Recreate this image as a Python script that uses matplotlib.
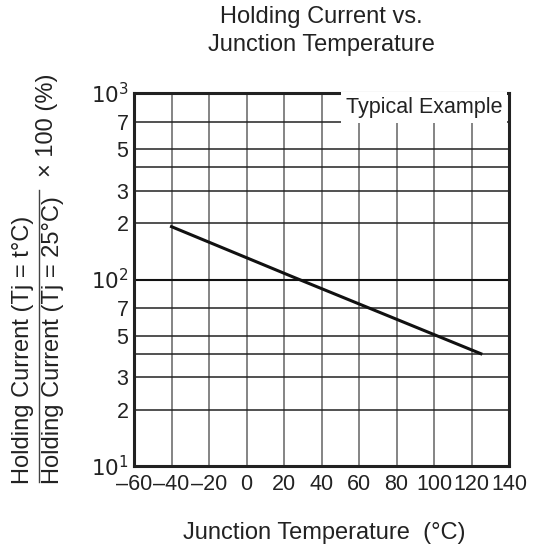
import matplotlib
matplotlib.use("Agg")
import matplotlib.pyplot as plt
from matplotlib.ticker import FixedLocator

plt.rcParams['font.family'] = ['Liberation Sans', 'DejaVu Sans']

# Data
temp = [-40, 25, 125]
ratio = [192, 103, 40]

x_ticks = [-60, -40, -20, 0, 20, 40, 60, 80, 100, 120, 140]
x_labels = ['\u201360', '\u201340', '\u201320', '0', '20', '40', '60', '80', '100', '120', '140']
y_major = [10, 100, 1000]
y_major_labels = ['$10^1$', '$10^2$', '$10^3$']
y_minor = [20, 30, 40, 50, 70, 200, 300, 400, 500, 700]
y_minor_labels = ['2', '3', '', '5', '7', '2', '3', '', '5', '7']

fig = plt.figure(figsize=(5.39, 5.53), dpi=100)
ax = fig.add_axes([134 / 539, 1 - 466 / 553, 375 / 539, 373 / 553])

ax.set_yscale('log')
ax.set_xlim(-60, 140)
ax.set_ylim(10, 1000)

# Grid
for xv in x_ticks[1:-1]:
    ax.axvline(xv, color='#707070', lw=1.2, zorder=1)
for yv in y_minor:
    ax.axhline(yv, color='#222222', lw=1.1, zorder=1)
ax.axhline(100, color='#111111', lw=1.5, zorder=1)

ax.plot(temp, ratio, color='#111111', lw=2.2, zorder=3)

ax.set_xticks(x_ticks)
ax.set_xticklabels(x_labels, fontsize=15.5)
ax.yaxis.set_major_locator(FixedLocator(y_major))
ax.set_yticklabels(y_major_labels, fontsize=15.5)
ax.yaxis.set_minor_locator(FixedLocator(y_minor))
ax.set_yticklabels(y_minor_labels, minor=True, fontsize=15.5)
ax.tick_params(axis='both', which='both', length=0, pad=4, colors='#222222')
ax.tick_params(axis='x', pad=6)

for s in ax.spines.values():
    s.set_linewidth(2.2)
    s.set_color('#222222')

ax.text(0.982, 0.96, 'Typical Example', transform=ax.transAxes, ha='right', va='center',
        fontsize=15.5, color='#222222', zorder=4,
        bbox=dict(facecolor='white', edgecolor='none', pad=3.5))

fig.text(321 / 539, 1 - 31 / 553, 'Holding Current vs.\nJunction Temperature', ha='center',
         va='center', fontsize=17, color='#222222', linespacing=1.3)
fig.text(324 / 539, 1 - 533 / 553, 'Junction Temperature  (\u00b0C)', ha='center',
         va='center', fontsize=17, color='#222222')

# Y label as a fraction
fig.text(23 / 539, 1 - 484 / 553, 'Holding Current (Tj = t\u00b0C)', rotation=90,
         ha='center', va='bottom', fontsize=17, color='#222222')
fig.text(53 / 539, 1 - 484 / 553, 'Holding Current (Tj = 25\u00b0C)', rotation=90,
         ha='center', va='bottom', fontsize=17, color='#222222')
fig.add_artist(plt.Line2D([38.5 / 539, 38.5 / 539], [1 - 482 / 553, 1 - 190 / 553],
                          transform=fig.transFigure, color='#444444', lw=1))
fig.text(47 / 539, 1 - 125 / 553, '\u00d7 100 (%)', rotation=90,
         ha='center', va='center', fontsize=17, color='#222222')

fig.savefig('out.png', dpi=100)
